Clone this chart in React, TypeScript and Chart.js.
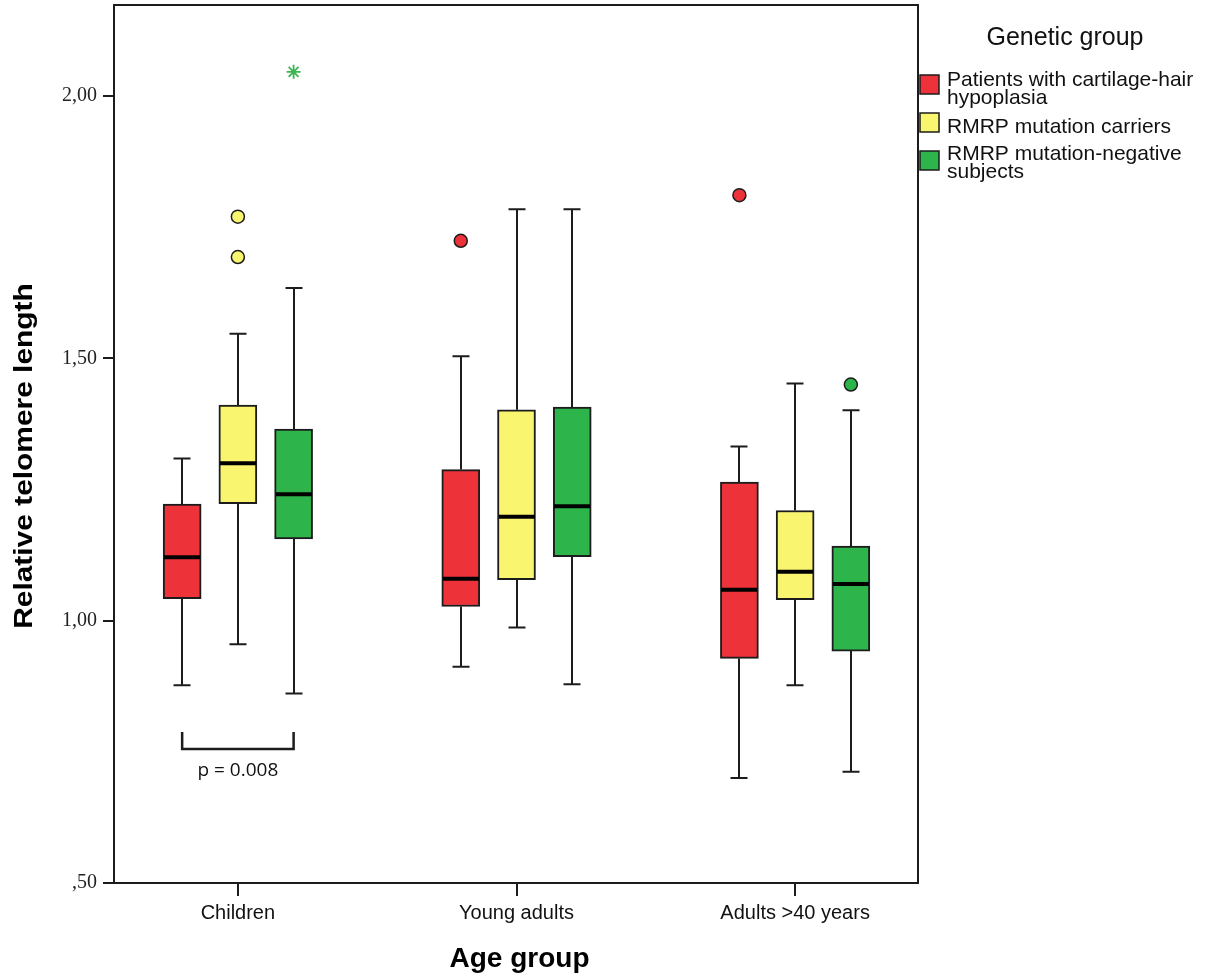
import React, { useEffect, useRef } from "react";
import { Chart, registerables } from "chart.js";

Chart.register(...registerables);

// ---------- data ----------
const categories = ["Children", "Young adults", "Adults >40 years"];
const groupLabels = [
  "Patients with cartilage-hair hypoplasia",
  "RMRP mutation carriers",
  "RMRP mutation-negative subjects",
];
const legendLines = [
  ["Patients with cartilage-hair", "hypoplasia"],
  ["RMRP mutation carriers"],
  ["RMRP mutation-negative", "subjects"],
];
const legendTitle = "Genetic group";
const xTitle = "Age group";
const yTitle = "Relative telomere length";
const yTickValues = [0.5, 1.0, 1.5, 2.0];
const yTickLabels = [",50", "1,00", "1,50", "2,00"];

// per group: values over categories
const patientsLow = [0.877, 0.912, 0.7];
const patientsQ1 = [1.042, 1.027, 0.928];
const patientsMedian = [1.121, 1.08, 1.059];
const patientsQ3 = [1.222, 1.288, 1.264];
const patientsHigh = [1.309, 1.504, 1.332];
const patientsOutliers = [[], [1.724], [1.811]];

const carriersLow = [0.955, 0.987, 0.877];
const carriersQ1 = [1.223, 1.078, 1.04];
const carriersMedian = [1.3, 1.198, 1.093];
const carriersQ3 = [1.411, 1.402, 1.21];
const carriersHigh = [1.547, 1.784, 1.452];
const carriersOutliers = [[1.77, 1.693], [], []];

const negativeLow = [0.861, 0.879, 0.712];
const negativeQ1 = [1.156, 1.122, 0.942];
const negativeMedian = [1.241, 1.218, 1.07];
const negativeQ3 = [1.365, 1.407, 1.142];
const negativeHigh = [1.634, 1.784, 1.401];
const negativeOutliers = [[], [], [1.45]];
const negativeExtremes = [[2.046], [], []];

const pLabel = "p = 0.008";
const bracketCategory = 0;
const bracketGroups = [0, 2];
const bracketLevel = 0.7555;
const bracketTop = 0.788;
const pLabelLevel = 0.7033;

// ---------- styles ----------
const groupColors = ["#EE3239", "#F9F56F", "#2DB54B"];
const starColor = "#3DB553";
const groupOffsets = [-0.2, 0, 0.2];
const ink = "#1c1c1c";
const BOX_W = 38;
const CAP_W = 17;

const groups = [
  { low: patientsLow, q1: patientsQ1, med: patientsMedian, q3: patientsQ3, high: patientsHigh, out: patientsOutliers },
  { low: carriersLow, q1: carriersQ1, med: carriersMedian, q3: carriersQ3, high: carriersHigh, out: carriersOutliers },
  { low: negativeLow, q1: negativeQ1, med: negativeMedian, q3: negativeQ3, high: negativeHigh, out: negativeOutliers },
];

const boxPlugin = {
  id: "boxExtras",
  beforeDatasetsDraw(chart: any) {
    const { ctx, scales } = chart;
    const xs = scales.x;
    const ys = scales.y;
    ctx.save();
    ctx.strokeStyle = ink;
    ctx.lineWidth = 2;
    groups.forEach((g, gi) => {
      categories.forEach((_, ci) => {
        const xc = Math.round(xs.getPixelForValue(ci + 1 + groupOffsets[gi]));
        const yH = ys.getPixelForValue(g.high[ci]);
        const yL = ys.getPixelForValue(g.low[ci]);
        const y3 = ys.getPixelForValue(g.q3[ci]);
        const y1 = ys.getPixelForValue(g.q1[ci]);
        ctx.beginPath();
        ctx.moveTo(xc, y3);
        ctx.lineTo(xc, yH);
        ctx.moveTo(xc, y1);
        ctx.lineTo(xc, yL);
        ctx.moveTo(xc - CAP_W / 2, yH);
        ctx.lineTo(xc + CAP_W / 2, yH);
        ctx.moveTo(xc - CAP_W / 2, yL);
        ctx.lineTo(xc + CAP_W / 2, yL);
        ctx.stroke();
      });
    });
    ctx.restore();
  },
  afterDatasetsDraw(chart: any) {
    const { ctx, scales, chartArea } = chart;
    const xs = scales.x;
    const ys = scales.y;
    ctx.save();
    // medians
    ctx.strokeStyle = "#000";
    ctx.lineWidth = 4;
    groups.forEach((g, gi) => {
      categories.forEach((_, ci) => {
        const xc = Math.round(xs.getPixelForValue(ci + 1 + groupOffsets[gi]));
        const ym = ys.getPixelForValue(g.med[ci]);
        ctx.beginPath();
        ctx.moveTo(xc - BOX_W / 2 + 1, ym);
        ctx.lineTo(xc + BOX_W / 2 - 1, ym);
        ctx.stroke();
      });
    });
    // bracket
    const bx0 = xs.getPixelForValue(bracketCategory + 1 + groupOffsets[bracketGroups[0]]);
    const bx1 = xs.getPixelForValue(bracketCategory + 1 + groupOffsets[bracketGroups[1]]);
    const byH = ys.getPixelForValue(bracketLevel);
    const byT = ys.getPixelForValue(bracketTop);
    ctx.strokeStyle = ink;
    ctx.lineWidth = 2.5;
    ctx.beginPath();
    ctx.moveTo(bx0, byT);
    ctx.lineTo(bx0, byH);
    ctx.lineTo(bx1, byH);
    ctx.lineTo(bx1, byT);
    ctx.stroke();
    ctx.fillStyle = "#111";
    ctx.font = '19px "Open Sans"';
    ctx.textAlign = "center";
    ctx.textBaseline = "alphabetic";
    ctx.fillText(pLabel, xs.getPixelForValue(bracketCategory + 1), ys.getPixelForValue(pLabelLevel));
    // frame
    ctx.strokeStyle = ink;
    ctx.lineWidth = 2;
    ctx.strokeRect(chartArea.left - 1, chartArea.top, chartArea.right - chartArea.left + 1, chartArea.bottom - chartArea.top);
    ctx.restore();
  },
  afterDraw(chart: any) {
    const { ctx, chartArea } = chart;
    ctx.save();
    ctx.fillStyle = "#000";
    // y title
    ctx.save();
    ctx.translate(32, 456);
    ctx.rotate(-Math.PI / 2);
    ctx.scale(1.15, 1);
    ctx.font = 'bold 26px "Liberation Sans"';
    ctx.textAlign = "center";
    ctx.textBaseline = "alphabetic";
    ctx.fillText(yTitle, 0, 0);
    ctx.restore();
    // x title
    ctx.font = 'bold 28px "Liberation Sans"';
    ctx.textAlign = "center";
    ctx.textBaseline = "alphabetic";
    ctx.fillText(xTitle, 519.5, 967);
    // legend
    ctx.fillStyle = "#111";
    ctx.font = '25px "Liberation Sans"';
    ctx.fillText(legendTitle, 1065, 45);
    const squareTops = [75, 113, 151];
    const lineBases = [[86, 104], [133], [160, 178]];
    const left = chartArea.right + 2;
    legendLines.forEach((lines, i) => {
      ctx.fillStyle = groupColors[i];
      ctx.fillRect(left, squareTops[i], 19, 19);
      ctx.strokeStyle = ink;
      ctx.lineWidth = 1.5;
      ctx.strokeRect(left, squareTops[i], 19, 19);
      ctx.fillStyle = "#111";
      ctx.font = '21px "Liberation Sans"';
      ctx.textAlign = "left";
      lines.forEach((t, li) => ctx.fillText(t, left + 27, lineBases[i][li]));
    });
    ctx.restore();
  },
};

export default function App() {
  const ref = useRef<HTMLCanvasElement | null>(null);
  useEffect(() => {
    if (!ref.current) return;
    const boxDatasets = groups.map((g, gi) => ({
      type: "bar" as const,
      label: groupLabels[gi],
      data: categories.map((_, ci) => ({ x: ci + 1 + groupOffsets[gi], y: [g.q1[ci], g.q3[ci]] })),
      backgroundColor: groupColors[gi],
      borderColor: ink,
      borderWidth: 2,
      borderSkipped: false,
      barThickness: BOX_W,
      grouped: false,
      order: 2,
    }));
    const outlierDatasets = groups.map((g, gi) => ({
      type: "scatter" as const,
      label: groupLabels[gi] + " outliers",
      data: g.out.flatMap((vals, ci) => vals.map((v) => ({ x: ci + 1 + groupOffsets[gi], y: v }))),
      pointRadius: 6.5,
      pointBackgroundColor: groupColors[gi],
      pointBorderColor: ink,
      pointBorderWidth: 1.5,
      order: 1,
    }));
    const extremeDataset = {
      type: "scatter" as const,
      label: groupLabels[2] + " extremes",
      data: negativeExtremes.flatMap((vals, ci) => vals.map((v) => ({ x: ci + 1 + groupOffsets[2], y: v }))),
      pointStyle: "star",
      pointRadius: 7,
      pointBorderColor: starColor,
      pointBorderWidth: 1.8,
      order: 0,
    };
    const chart = new Chart(ref.current, {
      type: "bar",
      data: { datasets: [...boxDatasets, ...outlierDatasets, extremeDataset] as any },
      options: {
        responsive: false,
        animation: false,
        devicePixelRatio: 1,
        layout: { autoPadding: false, padding: { left: 0, top: 5, right: 289, bottom: 0 } },
        plugins: { legend: { display: false }, tooltip: { enabled: false } },
        scales: {
          x: {
            type: "linear",
            offset: false,
            min: 0.559,
            max: 3.441,
            afterBuildTicks: (s: any) => {
              s.ticks = categories.map((_, i) => ({ value: i + 1 }));
            },
            afterFit: (s: any) => {
              s.height = 95;
              s.paddingLeft = 0;
              s.paddingRight = 0;
            },
            ticks: {
              callback: (v: any) => categories[Math.round(Number(v)) - 1] ?? "",
              font: { family: '"Liberation Sans"', size: 20 },
              color: "#111",
              padding: 5,
              maxRotation: 0,
              autoSkip: false,
            },
            grid: { offset: false, drawOnChartArea: false, drawTicks: true, tickLength: 13, color: ink, lineWidth: 2 },
            border: { display: false },
          },
          y: {
            type: "linear",
            min: 0.5,
            max: 2.1734,
            afterBuildTicks: (s: any) => {
              s.ticks = yTickValues.map((v) => ({ value: v }));
            },
            afterFit: (s: any) => {
              s.width = 115;
              s.paddingTop = 0;
              s.paddingBottom = 0;
            },
            ticks: {
              callback: (v: any) => {
                const i = yTickValues.findIndex((t) => Math.abs(t - Number(v)) < 1e-6);
                return i >= 0 ? yTickLabels[i] : "";
              },
              font: { family: '"Liberation Serif"', size: 20, lineHeight: 0.4 },
              color: "#222",
              padding: 6,
            },
            grid: { drawOnChartArea: false, drawTicks: true, tickLength: 12, color: ink, lineWidth: 2 },
            border: { display: false },
          },
        },
      },
      plugins: [boxPlugin],
    } as any);
    return () => chart.destroy();
  }, []);
  return (
    <div style={{ position: "absolute", left: 0, top: 0, width: 1207, height: 978, background: "#fff" }}>
      <canvas ref={ref} width={1207} height={978} style={{ display: "block" }} />
    </div>
  );
}
